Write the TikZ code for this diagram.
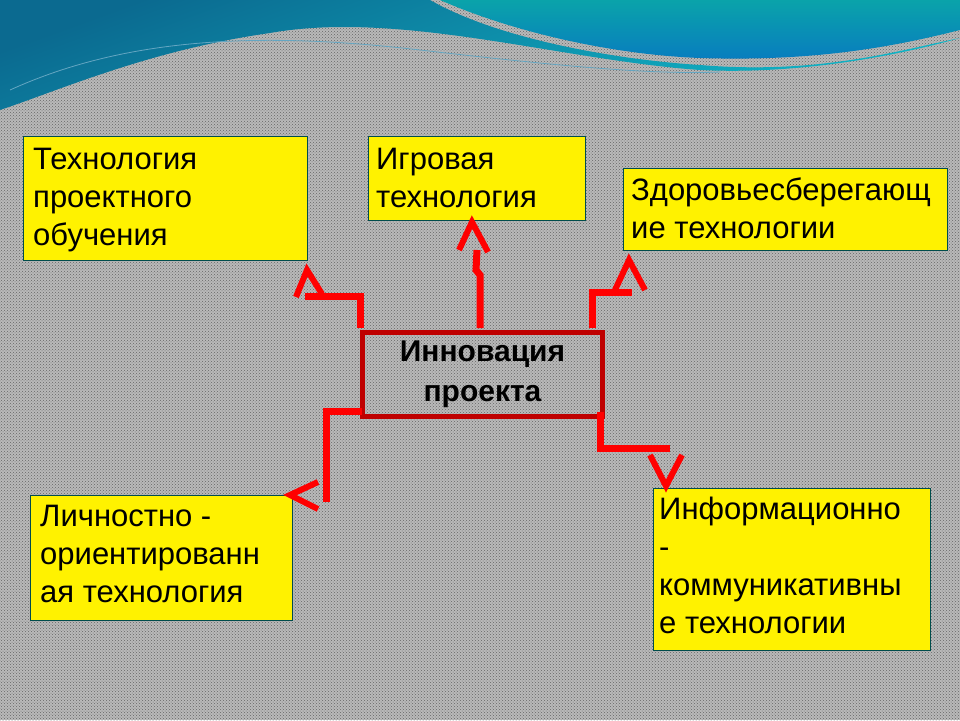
\documentclass[tikz,border=0pt]{standalone}
\usepackage{fontspec}
\setmainfont{Liberation Sans}
\usetikzlibrary{patterns}
\definecolor{wdark}{HTML}{0B6A90}
\definecolor{wmid}{HTML}{0A9AB0}
\definecolor{wlight}{HTML}{10B8C8}
\definecolor{wlobe}{HTML}{0AA3AA}
\begin{document}
\begin{tikzpicture}[x=1pt,y=-1pt,
  tbox/.style={draw=teal!60!black,fill=yellow,line width=0.6pt},
  ttext/.style={anchor=north west,align=left,inner sep=0pt,font=\fontsize{31}{38}\selectfont},
  conn/.style={draw=red,line width=7pt,line join=miter},
  tip/.style={draw=red,line width=6pt}]
\useasboundingbox (0,0) rectangle (960,720);
\fill[gray!55] (0,0) rectangle (960,720);
\fill[pattern=crosshatch dots,pattern color=black!60] (0,0) rectangle (960,720);
% wave
\shade[top color=wdark,bottom color=wlight,shading angle=20] (0,0) -- (430,0) .. controls (500,40) and (620,60) .. (700,65)
  .. controls (820,75) and (900,50) .. (960,38) -- (960,0) -- (960,38)
  .. controls (900,55) and (800,75) .. (700,70) .. controls (560,60) and (400,10) .. (270,33)
  .. controls (150,50) and (60,90) .. (0,110) -- cycle;
\shade[top color=wlobe,bottom color=wmid!80!blue] (440,0) .. controls (520,35) and (620,55) .. (700,58)
  .. controls (820,62) and (900,45) .. (960,30) -- (960,0) -- cycle;
\draw[cyan!50!gray,line width=0.8pt] (10,90) .. controls (120,40) and (250,30) .. (420,50) .. controls (550,65) and (650,75) .. (720,72);
% boxes
\node[tbox,minimum width=284,minimum height=124,anchor=north west] (A) at (23,136) {};
\node[ttext] at (33,148) {Технология\\проектного\\обучения};
\node[tbox,minimum width=217,minimum height=84,anchor=north west] (B) at (368,136) {};
\node[ttext] at (376,148) {Игровая\\технология};
\node[tbox,minimum width=324,minimum height=82,anchor=north west] (C) at (623,168) {};
\node[ttext] at (631,178) {Здоровьесберегающ\\ие технологии};
\node[tbox,minimum width=262,minimum height=125,anchor=north west] (D) at (30,495) {};
\node[ttext] at (40,505) {Личностно -\\ориентированн\\ая технология};
\node[tbox,minimum width=277,minimum height=162,anchor=north west] (E) at (653,488) {};
\node[ttext] at (659,497) {Информационно\\-\\коммуникативны\\е технологии};
% center
\node[draw=red!75!black,line width=5pt,minimum width=240,minimum height=84,anchor=north west] (M) at (360,330) {};
\node[align=center,font=\bfseries\fontsize{30}{40}\selectfont] at (M.center) {Инновация\\проекта};
% connectors
\coordinate (t1) at (477,250);
\draw[conn] (480,328) -- (480,275) -- (476,270) -- (t1);
\draw[tip] (459,250) -- (472,222) -- (488,252);
\draw[conn] (360,328) -- (360,296) -- (305,296);
\draw[tip] (296,297) -- (307,270) -- (322,294);
\draw[conn] (592,328) -- (592,292) -- (632,292);
\draw[tip] (615,290) -- (629,260) -- (645,290);
\draw[conn] (362,411) -- (326,411) -- (326,502);
\draw[tip] (318,482) -- (290,495) -- (318,509);
\draw[conn] (600,412) -- (600,448) -- (670,448);
\draw[tip] (650,455) -- (666,486) -- (682,455);
\end{tikzpicture}
\end{document}
